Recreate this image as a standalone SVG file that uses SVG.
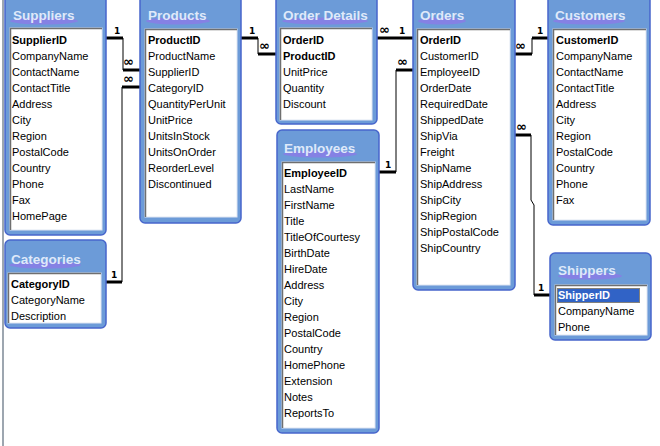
<svg xmlns="http://www.w3.org/2000/svg" width="660" height="446" viewBox="0 0 660 446">
<style>
.panel{fill:#6c9bd8;stroke:#4766cc;stroke-width:1.5}
.list{fill:#fff;stroke:#dfe6f2;stroke-width:1}
.sunk{fill:none;stroke:#6f6f6f;stroke-width:1.5}
.blob{fill:#8a7ce6;opacity:0.85}
.title{font-family:"Liberation Sans",Arial,sans-serif;font-size:13.5px;font-weight:bold;fill:#dfe9fa}
.f{font-family:"Liberation Sans",Arial,sans-serif;font-size:11px;fill:#000}
.k{font-weight:bold}
.thick{stroke:#000;stroke-width:3;fill:none}
.thin{stroke:#000;stroke-width:1;fill:none}
.lbl{font-family:"DejaVu Sans",sans-serif;font-size:9px;font-weight:bold;fill:#000}
.inf{font-family:"DejaVu Sans",sans-serif;font-size:13px;font-weight:bold;fill:#000}
.sel{fill:#3163c6}
.selt{fill:#fff}
</style>
<rect width="660" height="446" fill="#fff"/>
<line x1="3" y1="0" x2="3" y2="446" stroke="#7d8896" stroke-width="1.5"/>

<g id="connectors">
  <!-- Suppliers - Products -->
  <path class="thick" d="M106,38H123"/><path class="thin" d="M123,38V70"/><path class="thick" d="M123,70H140"/>
  <text class="lbl" x="114" y="34">1</text><text class="inf" x="123" y="66">∞</text>
  <!-- Categories - Products -->
  <path class="thick" d="M106,282H122"/><path class="thin" d="M122,282V87"/><path class="thick" d="M122,87H140"/>
  <text class="lbl" x="111" y="278">1</text><text class="inf" x="123" y="83">∞</text>
  <!-- Products - Order Details -->
  <path class="thick" d="M241,38H258"/><path class="thin" d="M258,38V54"/><path class="thick" d="M258,54H276"/>
  <text class="lbl" x="249" y="34">1</text><text class="inf" x="259" y="50">∞</text>
  <!-- Order Details - Orders -->
  <path class="thick" d="M377,38H413"/>
  <text class="inf" x="379" y="34">∞</text><text class="lbl" x="399" y="34">1</text>
  <!-- Employees - Orders -->
  <path class="thick" d="M379,172H396"/><path class="thin" d="M396,172V70"/><path class="thick" d="M396,70H413"/>
  <text class="lbl" x="385" y="168">1</text><text class="inf" x="397" y="66">∞</text>
  <!-- Orders - Customers -->
  <path class="thick" d="M515,54H532"/><path class="thin" d="M532,54V38"/><path class="thick" d="M532,38H548"/>
  <text class="inf" x="515" y="50">∞</text><text class="lbl" x="537" y="34">1</text>
  <!-- Orders - Shippers -->
  <path class="thick" d="M515,135H531"/><path class="thin" d="M531,135L531,200L534,205V295"/><path class="thick" d="M534,295H550"/>
  <text class="inf" x="516" y="131">∞</text><text class="lbl" x="538" y="291">1</text>
</g>

<g id="suppliers">
  <rect class="panel" x="5" y="-6" width="101" height="241" rx="5"/>
  <ellipse class="blob" cx="44" cy="21" rx="34" ry="3.5"/>
  <text class="title" x="13" y="20">Suppliers</text>
  <rect class="list" x="10" y="28" width="92" height="202"/>
  <path class="sunk" d="M10.5,230V28.5H102"/>
  <text class="f k" x="12" y="44">SupplierID</text>
  <text class="f" x="12" y="60">CompanyName</text>
  <text class="f" x="12" y="76">ContactName</text>
  <text class="f" x="12" y="92">ContactTitle</text>
  <text class="f" x="12" y="108">Address</text>
  <text class="f" x="12" y="124">City</text>
  <text class="f" x="12" y="140">Region</text>
  <text class="f" x="12" y="156">PostalCode</text>
  <text class="f" x="12" y="172">Country</text>
  <text class="f" x="12" y="188">Phone</text>
  <text class="f" x="12" y="204">Fax</text>
  <text class="f" x="12" y="220">HomePage</text>
</g>

<g id="products">
  <rect class="panel" x="140" y="-6" width="101" height="229" rx="5"/>
  <ellipse class="blob" cx="178" cy="21" rx="32" ry="3.5"/>
  <text class="title" x="148" y="20">Products</text>
  <rect class="list" x="145" y="29" width="92" height="188"/>
  <path class="sunk" d="M145.5,217V29.5H237"/>
  <text class="f k" x="148" y="44">ProductID</text>
  <text class="f" x="148" y="60">ProductName</text>
  <text class="f" x="148" y="76">SupplierID</text>
  <text class="f" x="148" y="92">CategoryID</text>
  <text class="f" x="148" y="108">QuantityPerUnit</text>
  <text class="f" x="148" y="124">UnitPrice</text>
  <text class="f" x="148" y="140">UnitsInStock</text>
  <text class="f" x="148" y="156">UnitsOnOrder</text>
  <text class="f" x="148" y="172">ReorderLevel</text>
  <text class="f" x="148" y="188">Discontinued</text>
</g>

<g id="order-details">
  <rect class="panel" x="276" y="-6" width="101" height="130" rx="5"/>
  <ellipse class="blob" cx="325" cy="21" rx="43" ry="3.5"/>
  <text class="title" x="283" y="20">Order Details</text>
  <rect class="list" x="280" y="28" width="92" height="92"/>
  <path class="sunk" d="M280.5,120V28.5H372"/>
  <text class="f k" x="283" y="44">OrderID</text>
  <text class="f k" x="283" y="60">ProductID</text>
  <text class="f" x="283" y="76">UnitPrice</text>
  <text class="f" x="283" y="92">Quantity</text>
  <text class="f" x="283" y="108">Discount</text>
</g>

<g id="orders">
  <rect class="panel" x="413" y="-6" width="102" height="296" rx="5"/>
  <ellipse class="blob" cx="442" cy="21" rx="24" ry="3.5"/>
  <text class="title" x="420" y="20">Orders</text>
  <rect class="list" x="417" y="29" width="93" height="256"/>
  <path class="sunk" d="M417.5,285V29.5H510"/>
  <text class="f k" x="420" y="44">OrderID</text>
  <text class="f" x="420" y="60">CustomerID</text>
  <text class="f" x="420" y="76">EmployeeID</text>
  <text class="f" x="420" y="92">OrderDate</text>
  <text class="f" x="420" y="108">RequiredDate</text>
  <text class="f" x="420" y="124">ShippedDate</text>
  <text class="f" x="420" y="140">ShipVia</text>
  <text class="f" x="420" y="156">Freight</text>
  <text class="f" x="420" y="172">ShipName</text>
  <text class="f" x="420" y="188">ShipAddress</text>
  <text class="f" x="420" y="204">ShipCity</text>
  <text class="f" x="420" y="220">ShipRegion</text>
  <text class="f" x="420" y="236">ShipPostalCode</text>
  <text class="f" x="420" y="252">ShipCountry</text>
</g>

<g id="customers">
  <rect class="panel" x="548" y="-6" width="102" height="231" rx="5"/>
  <ellipse class="blob" cx="589" cy="21" rx="36" ry="3.5"/>
  <text class="title" x="555" y="20">Customers</text>
  <rect class="list" x="553" y="29" width="93" height="191"/>
  <path class="sunk" d="M553.5,220V29.5H646"/>
  <text class="f k" x="556" y="44">CustomerID</text>
  <text class="f" x="556" y="60">CompanyName</text>
  <text class="f" x="556" y="76">ContactName</text>
  <text class="f" x="556" y="92">ContactTitle</text>
  <text class="f" x="556" y="108">Address</text>
  <text class="f" x="556" y="124">City</text>
  <text class="f" x="556" y="140">Region</text>
  <text class="f" x="556" y="156">PostalCode</text>
  <text class="f" x="556" y="172">Country</text>
  <text class="f" x="556" y="188">Phone</text>
  <text class="f" x="556" y="204">Fax</text>
</g>

<g id="employees">
  <rect class="panel" x="277" y="130" width="102" height="303" rx="5"/>
  <ellipse class="blob" cx="320" cy="154" rx="37" ry="3.5"/>
  <text class="title" x="284" y="153">Employees</text>
  <rect class="list" x="282" y="162" width="93" height="266"/>
  <path class="sunk" d="M282.5,428V162.5H375"/>
  <text class="f k" x="284" y="177">EmployeeID</text>
  <text class="f" x="284" y="193">LastName</text>
  <text class="f" x="284" y="209">FirstName</text>
  <text class="f" x="284" y="225">Title</text>
  <text class="f" x="284" y="241">TitleOfCourtesy</text>
  <text class="f" x="284" y="257">BirthDate</text>
  <text class="f" x="284" y="273">HireDate</text>
  <text class="f" x="284" y="289">Address</text>
  <text class="f" x="284" y="305">City</text>
  <text class="f" x="284" y="321">Region</text>
  <text class="f" x="284" y="337">PostalCode</text>
  <text class="f" x="284" y="353">Country</text>
  <text class="f" x="284" y="369">HomePhone</text>
  <text class="f" x="284" y="385">Extension</text>
  <text class="f" x="284" y="401">Notes</text>
  <text class="f" x="284" y="417">ReportsTo</text>
</g>

<g id="categories">
  <rect class="panel" x="5" y="240" width="101" height="88" rx="5"/>
  <ellipse class="blob" cx="45" cy="265" rx="36" ry="3.5"/>
  <text class="title" x="11" y="264">Categories</text>
  <rect class="list" x="8" y="273" width="93" height="50"/>
  <path class="sunk" d="M8.5,323V273.5H101"/>
  <text class="f k" x="11" y="288">CategoryID</text>
  <text class="f" x="11" y="304">CategoryName</text>
  <text class="f" x="11" y="320">Description</text>
</g>

<g id="shippers">
  <rect class="panel" x="550" y="253" width="101" height="87" rx="5"/>
  <ellipse class="blob" cx="590" cy="276" rx="32" ry="3.5"/>
  <text class="title" x="558" y="275">Shippers</text>
  <rect class="list" x="555" y="285" width="92" height="50"/>
  <path class="sunk" d="M555.5,335V285.5H647"/>
  <rect class="sel" x="557" y="288" width="83" height="15"/>
  <rect x="557.5" y="288.5" width="82" height="14" fill="none" stroke="#d8a030" stroke-width="1" stroke-dasharray="1,1"/>
  <text class="f k selt" x="558" y="299">ShipperID</text>
  <text class="f" x="558" y="315">CompanyName</text>
  <text class="f" x="558" y="331">Phone</text>
</g>
</svg>
